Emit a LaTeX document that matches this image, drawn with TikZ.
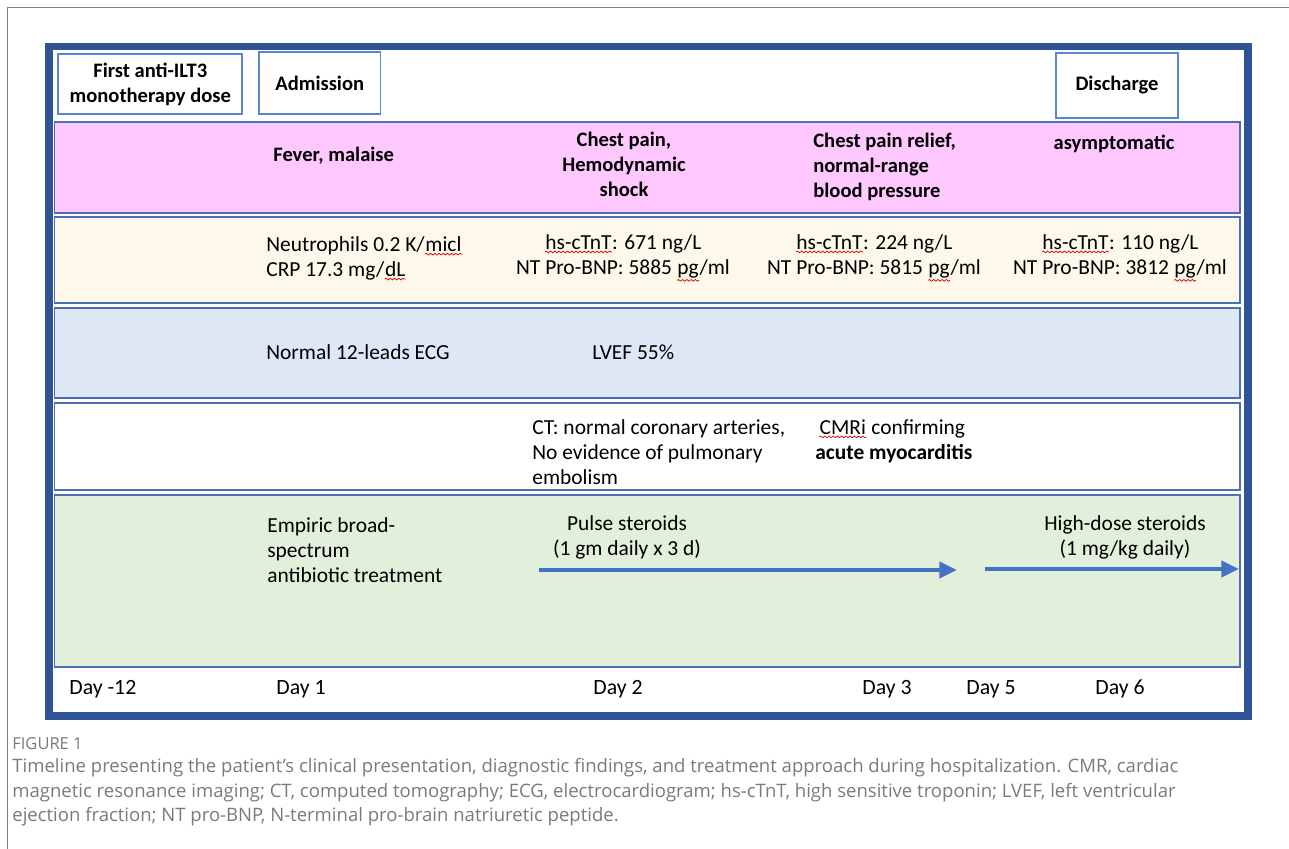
\documentclass[tikz,border=0pt]{standalone}
\usepackage{fontspec}
\setmainfont{Carlito}
\newfontfamily\capfont{Open Sans}
\usepackage{xcolor}
\usetikzlibrary{positioning, arrows.meta, decorations.pathmorphing}
\definecolor{frameblue}{HTML}{2F5496}
\definecolor{lineblue}{HTML}{4A6FB5}
\definecolor{boxblue}{HTML}{5B86CC}
\definecolor{arrowblue}{HTML}{4472C4}
\definecolor{rowpink}{HTML}{FFC9FF}
\definecolor{rowcream}{HTML}{FDF8E9}
\definecolor{rowblue}{HTML}{DEE8F4}
\definecolor{rowgreen}{HTML}{E2EFDA}
\definecolor{capgray}{HTML}{7A7A7A}
\newcommand{\sq}[1]{\tikz[baseline=(sqw.base)]{\node[inner sep=0pt] (sqw) {#1};
    \draw[red!85!black, line width=0.4pt, decorate, decoration={snake, amplitude=0.5pt, segment length=2.4pt}]
        ([yshift=-1.2pt]sqw.south west) -- ([yshift=-1.2pt]sqw.south east);}}

\begin{document}
\begin{tikzpicture}[
    x=0.02cm, y=-0.02cm,
    every node/.style={font=\fontsize{12.2}{14.2}\selectfont, inner sep=0pt},
    hdr/.style={font=\fontsize{11.7}{14.2}\selectfont\bfseries},
    topbox/.style={draw=boxblue, line width=1pt, fill=white, align=center},
    row/.style={draw=lineblue, line width=1.1pt},
    arr/.style={-{Triangle[length=10pt, width=9pt]}, line width=2.3pt, arrowblue},
    day/.style={anchor=west, font=\fontsize{12.4}{14}\selectfont}
]
\useasboundingbox (0,0) rectangle (1289,849);
\draw[gray, line width=0.85pt] (7.5,849) -- (7.5,7.5) -- (1289,7.5);
\foreach \t/\b/\c in {122.3/212.7/rowpink, 217.3/303/rowcream, 307.8/398/rowblue, 403/490/white, 495/667/rowgreen}
    \draw[row, fill=\c] (54.5,\t) rectangle (1240,\b);
\draw[frameblue, line width=4.5pt] (49,46.5) rectangle (1248,716);

\node[topbox, hdr, minimum width=3.68cm, minimum height=1.2cm] (dose) at (150.3,84.3) {First anti-ILT3\\monotherapy dose};
\node[topbox, hdr, minimum width=2.43cm, minimum height=1.24cm] (adm) at (319.7,83.3) {Admission};
\node[topbox, hdr, minimum width=2.45cm, minimum height=1.29cm] (dis) at (1117,85.5) {Discharge};

\node[hdr, anchor=west] (fever) at (273,156) {Fever, malaise};
\node[hdr, align=center] (shock) at (624,164) {Chest pain,\\Hemodynamic\\shock};
\node[hdr, align=left, anchor=west] (relief) at (813,167) {Chest pain relief,\\normal-range\\blood pressure};
\node[hdr] (asym) at (1114,144) {asymptomatic};

\node[align=left, anchor=west] (neut) at (266,258.5) {Neutrophils 0.2 K/\sq{micl}\\CRP 17.3 mg/\sq{dL}};
\node[align=center] (labs2) at (623,258) {\sq{hs-cTnT}: 671 ng/L\\NT Pro-BNP: 5885 \sq{pg}/ml};
\node[align=center] (labs3) at (874,258) {\sq{hs-cTnT}: 224 ng/L\\NT Pro-BNP: 5815 \sq{pg}/ml};
\node[align=center] (labs4) at (1120,258) {\sq{hs-cTnT}: 110 ng/L\\NT Pro-BNP: 3812 \sq{pg}/ml};

\node[anchor=west] (ecg) at (266,352) {Normal 12-leads ECG};
\node[anchor=west] (lvef) at (592,352) {LVEF 55\%};

\node[align=left, anchor=west] (ct) at (532,452) {CT: normal coronary arteries,\\No evidence of pulmonary\\embolism};
\node[align=left, anchor=west] (cmr) at (815,441) {\,\sq{CMRi} confirming\\\textbf{acute myocarditis}};

\node[align=left, anchor=west] (abx) at (267,550) {Empiric broad-\\spectrum\\antibiotic treatment};
\node[align=center] (pulse) at (627,537) {Pulse steroids\\(1 gm daily x 3 d)};
\node[align=center] (high) at (1125,537) {High-dose steroids\\(1 mg/kg daily)};

\coordinate (p1) at (539,570);
\coordinate (p2) at (957,570);
\coordinate (h1) at (985,569);
\coordinate (h2) at (1239,569);
\draw[arr] (p1) -- (p2);
\draw[arr] (h1) -- (h2);

\foreach \x/\d [count=\i] in {69/-12, 276/1, 593/2, 862/3, 966/5, 1095/6}
    \node[day] (day\i) at (\x,689) {Day \d};

\node[anchor=west, font=\capfont\fontsize{9.4}{10}\selectfont, text=capgray] (fig) at (12,744) {FIGURE 1};
\node[anchor=west, align=left, font=\capfont\fontsize{10.55}{13.9}\selectfont, text=capgray] (cap) at (12,792.5) {Timeline presenting the patient’s clinical presentation, diagnostic findings, and treatment approach during hospitalization. CMR, cardiac\\magnetic resonance imaging; CT, computed tomography; ECG, electrocardiogram; hs-cTnT, high sensitive troponin; LVEF, left ventricular\\ejection fraction; NT pro-BNP, N-terminal pro-brain natriuretic peptide.};
\end{tikzpicture}
\end{document}
